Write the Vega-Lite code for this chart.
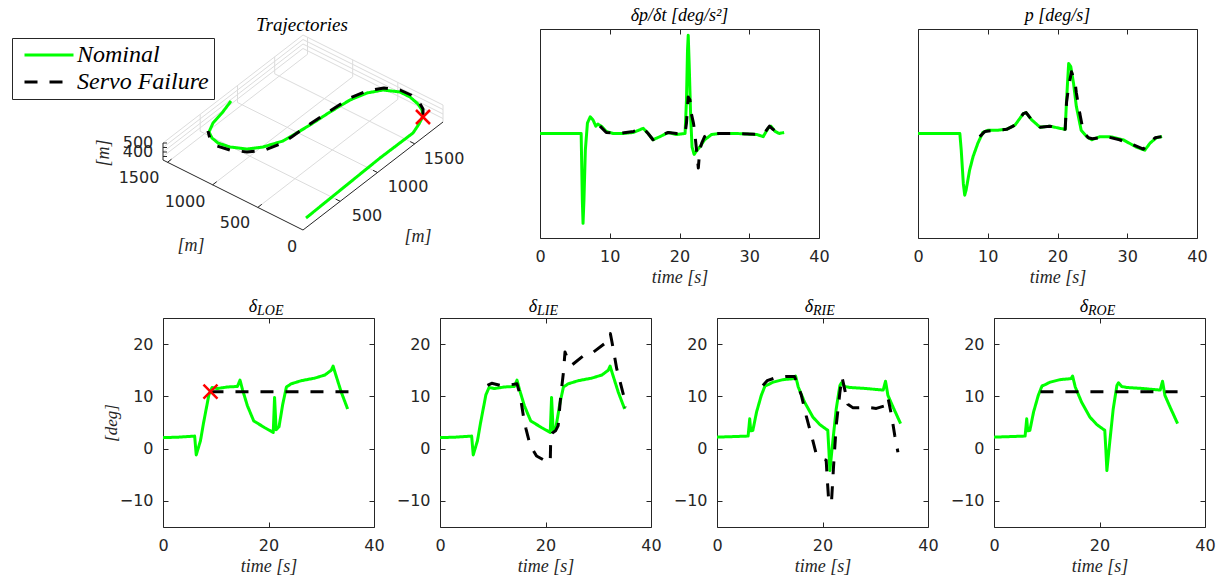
{
"$schema": "https://vega.github.io/schema/vega-lite/v6.json",
"background": "white",
"autosize": {"type": "pad"},
"padding": {"left": 11, "top": 6, "right": 0, "bottom": 0},
"datasets": {
"nomL": [{"t":0,"v":2.1},{"t":3,"v":2.2},{"t":6.0,"v":2.4},{"t":6.3,"v":-1.2},{"t":7.1,"v":1.5},{"t":7.7,"v":5.0},{"t":8.7,"v":10.3},{"t":9.3,"v":11.7},{"t":10.3,"v":11.5},{"t":12.2,"v":11.8},{"t":14.1,"v":11.9},{"t":14.6,"v":13.1},{"t":15.1,"v":11.2},{"t":16.0,"v":8.2},{"t":17.2,"v":5.3},{"t":19.3,"v":4.0},{"t":20.9,"v":3.1},{"t":21.15,"v":9.8},{"t":21.45,"v":3.6},{"t":22.0,"v":4.2},{"t":22.7,"v":8.5},{"t":23.4,"v":11.8},{"t":24.3,"v":12.4},{"t":26.2,"v":13.0},{"t":28.8,"v":13.5},{"t":30.7,"v":14.1},{"t":31.9,"v":15.0},{"t":32.25,"v":15.8},{"t":32.7,"v":14.3},{"t":33.8,"v":10.8},{"t":35.0,"v":7.6}],
"failLOE": [{"t":9,"v":10.9},{"t":35.2,"v":10.9}],
"failLIE": [{"t":9.0,"v":12.1},{"t":9.8,"v":12.5},{"t":11.4,"v":12.1},{"t":12.6,"v":12.1},{"t":14.6,"v":12.4},{"t":15.2,"v":10.2},{"t":15.8,"v":6.3},{"t":16.3,"v":3.8},{"t":17.1,"v":0.6},{"t":18.3,"v":-1.4},{"t":19.9,"v":-2.3},{"t":20.9,"v":-2.6},{"t":21.0,"v":2.5},{"t":21.3,"v":3.0},{"t":21.9,"v":3.4},{"t":22.4,"v":4.4},{"t":22.9,"v":10.2},{"t":23.4,"v":14.6},{"t":23.7,"v":18.5},{"t":24.3,"v":16.9},{"t":25.0,"v":16.0},{"t":27.2,"v":17.8},{"t":29.1,"v":18.5},{"t":31.6,"v":20.4},{"t":32.3,"v":22.0},{"t":32.6,"v":20.4},{"t":33.5,"v":15.3},{"t":34.8,"v":10.2},{"t":35.1,"v":7.9}],
"nomR": [{"t":0,"v":2.2},{"t":3,"v":2.3},{"t":5.9,"v":2.4},{"t":6.2,"v":5.7},{"t":6.4,"v":3.4},{"t":6.8,"v":3.5},{"t":7.5,"v":7.0},{"t":8.4,"v":10.2},{"t":9.1,"v":12.0},{"t":9.6,"v":12.2},{"t":10.6,"v":12.7},{"t":12.5,"v":13.2},{"t":14.6,"v":13.4},{"t":14.9,"v":13.9},{"t":15.4,"v":11.8},{"t":16.6,"v":8.9},{"t":18.2,"v":6.0},{"t":19.5,"v":4.6},{"t":21.0,"v":3.5},{"t":21.2,"v":-0.1},{"t":21.4,"v":-4.2},{"t":22.0,"v":1.8},{"t":22.6,"v":7.6},{"t":23.3,"v":12.1},{"t":23.6,"v":12.6},{"t":24.2,"v":11.9},{"t":25.2,"v":11.7},{"t":28.3,"v":11.5},{"t":31.5,"v":11.2},{"t":31.95,"v":12.9},{"t":32.4,"v":10.2},{"t":33.4,"v":7.9},{"t":34.8,"v":4.8}],
"failRIE": [{"t":8.7,"v":12.1},{"t":9.5,"v":13.0},{"t":10.9,"v":13.5},{"t":13.1,"v":13.8},{"t":14.7,"v":13.8},{"t":15.0,"v":13.0},{"t":16.0,"v":10.2},{"t":16.9,"v":6.3},{"t":18.1,"v":1.8},{"t":18.8,"v":-1.0},{"t":20.0,"v":-2.0},{"t":20.7,"v":-2.2},{"t":20.9,"v":-5.8},{"t":21.2,"v":-10.3},{"t":21.7,"v":-10.3},{"t":22.1,"v":-3.3},{"t":22.6,"v":4.4},{"t":23.3,"v":10.8},{"t":23.7,"v":13.7},{"t":24.2,"v":11.4},{"t":24.8,"v":8.5},{"t":25.8,"v":7.8},{"t":28.3,"v":7.9},{"t":30.2,"v":7.7},{"t":31.8,"v":8.2},{"t":32.4,"v":9.8},{"t":33.1,"v":6.3},{"t":33.7,"v":2.5},{"t":34.3,"v":-0.7}],
"failROE": [{"t":8.8,"v":10.9},{"t":34.8,"v":10.9}],
"dpdtN": [{"t":0,"v":0},{"t":5.9,"v":0},{"t":6.07,"v":-0.64},{"t":6.17,"v":-0.86},{"t":6.3,"v":-0.64},{"t":6.5,"v":-0.16},{"t":6.8,"v":0.10},{"t":7.2,"v":0.16},{"t":7.6,"v":0.13},{"t":8.0,"v":0.07},{"t":8.3,"v":0.09},{"t":8.8,"v":0.07},{"t":9.5,"v":0.02},{"t":10.5,"v":0.0},{"t":11.9,"v":0.0},{"t":13.4,"v":0.01},{"t":14.8,"v":0.05},{"t":15.5,"v":0.0},{"t":16.2,"v":-0.06},{"t":17.2,"v":-0.03},{"t":18.4,"v":0.01},{"t":19.6,"v":-0.01},{"t":20.8,"v":0.0},{"t":21.0,"v":0.32},{"t":21.15,"v":0.80},{"t":21.25,"v":0.94},{"t":21.4,"v":0.64},{"t":21.6,"v":0.16},{"t":21.8,"v":-0.13},{"t":22.1,"v":-0.2},{"t":22.4,"v":-0.17},{"t":22.9,"v":-0.13},{"t":23.6,"v":-0.06},{"t":24.6,"v":-0.01},{"t":25.8,"v":0},{"t":28.2,"v":0},{"t":31.1,"v":-0.01},{"t":32.0,"v":-0.03},{"t":32.7,"v":0.05},{"t":33.1,"v":0.07},{"t":33.7,"v":0.02},{"t":34.3,"v":0},{"t":35.0,"v":0.01}],
"dpdtF": [{"t":8.6,"v":0.07},{"t":9.5,"v":0.01},{"t":11.4,"v":0.0},{"t":13.4,"v":0.02},{"t":14.8,"v":0.05},{"t":15.5,"v":0.0},{"t":16.2,"v":-0.06},{"t":17.2,"v":-0.02},{"t":18.4,"v":0.01},{"t":19.6,"v":0.0},{"t":20.8,"v":0.0},{"t":21.0,"v":0.1},{"t":21.25,"v":0.35},{"t":21.5,"v":0.32},{"t":21.7,"v":0.19},{"t":22.0,"v":0.1},{"t":22.2,"v":0.0},{"t":22.4,"v":-0.13},{"t":22.7,"v":-0.33},{"t":22.9,"v":-0.16},{"t":23.2,"v":-0.09},{"t":23.6,"v":-0.03},{"t":24.4,"v":0},{"t":25.8,"v":0},{"t":28.2,"v":0},{"t":32.0,"v":-0.01},{"t":32.9,"v":0.07},{"t":33.4,"v":0.04},{"t":34.2,"v":0.0},{"t":34.9,"v":0.0}],
"pN": [{"t":0,"v":0},{"t":6.0,"v":0},{"t":6.2,"v":-0.16},{"t":6.5,"v":-0.48},{"t":6.7,"v":-0.59},{"t":6.9,"v":-0.54},{"t":7.4,"v":-0.35},{"t":7.9,"v":-0.22},{"t":8.6,"v":-0.09},{"t":9.3,"v":0.01},{"t":10.0,"v":0.03},{"t":11.2,"v":0.03},{"t":12.7,"v":0.04},{"t":13.9,"v":0.08},{"t":15.1,"v":0.19},{"t":15.5,"v":0.20},{"t":16.3,"v":0.13},{"t":17.5,"v":0.06},{"t":18.9,"v":0.07},{"t":20.3,"v":0.05},{"t":21.1,"v":0.04},{"t":21.3,"v":0.32},{"t":21.6,"v":0.67},{"t":21.9,"v":0.64},{"t":22.3,"v":0.48},{"t":22.7,"v":0.26},{"t":23.4,"v":0.03},{"t":24.2,"v":-0.03},{"t":24.9,"v":-0.06},{"t":26.1,"v":-0.03},{"t":27.5,"v":-0.03},{"t":29.4,"v":-0.06},{"t":31.3,"v":-0.13},{"t":32.5,"v":-0.16},{"t":33.3,"v":-0.09},{"t":34.2,"v":-0.04},{"t":35.0,"v":-0.03}],
"pF": [{"t":8.85,"v":-0.03},{"t":9.6,"v":0.02},{"t":11.0,"v":0.03},{"t":12.7,"v":0.04},{"t":13.9,"v":0.08},{"t":15.1,"v":0.19},{"t":15.5,"v":0.20},{"t":16.3,"v":0.13},{"t":17.5,"v":0.06},{"t":18.9,"v":0.07},{"t":20.3,"v":0.05},{"t":21.1,"v":0.04},{"t":21.3,"v":0.3},{"t":21.6,"v":0.45},{"t":22.0,"v":0.59},{"t":22.5,"v":0.50},{"t":22.7,"v":0.39},{"t":23.2,"v":0.19},{"t":23.7,"v":0.02},{"t":24.4,"v":-0.04},{"t":25.0,"v":-0.05},{"t":27.0,"v":-0.03},{"t":28.9,"v":-0.06},{"t":30.9,"v":-0.11},{"t":32.3,"v":-0.15},{"t":33.3,"v":-0.09},{"t":34.0,"v":-0.04},{"t":34.9,"v":-0.03}],
"trajN": [{"i":1,"u":3,"v":12},{"i":2,"u":40,"v":42},{"i":3,"u":77,"v":72},{"i":4,"u":110,"v":97},{"i":5,"u":116,"v":106},{"i":6,"u":120,"v":114},{"i":7,"u":119,"v":120},{"i":8,"u":115,"v":126},{"i":9,"u":107,"v":133},{"i":10,"u":97,"v":138},{"i":11,"u":80,"v":140},{"i":12,"u":64,"v":137},{"i":13,"u":47,"v":130},{"i":14,"u":27,"v":118},{"i":15,"u":7,"v":105},{"i":16,"u":-3,"v":99},{"i":17,"u":-20,"v":89},{"i":18,"u":-40,"v":83},{"i":19,"u":-56,"v":81},{"i":20,"u":-73,"v":83},{"i":21,"u":-85,"v":87},{"i":22,"u":-91,"v":92},{"i":23,"u":-94,"v":98},{"i":24,"u":-90,"v":107},{"i":25,"u":-81,"v":117},{"i":26,"u":-72,"v":129}],
"trajF": [{"i":1,"u":120,"v":114},{"i":2,"u":120,"v":121},{"i":3,"u":116,"v":128},{"i":4,"u":108,"v":135},{"i":5,"u":97,"v":140},{"i":6,"u":81,"v":142},{"i":7,"u":64,"v":139},{"i":8,"u":47,"v":132},{"i":9,"u":27,"v":119},{"i":10,"u":7,"v":106},{"i":11,"u":-10,"v":94},{"i":12,"u":-20,"v":87},{"i":13,"u":-38,"v":80},{"i":14,"u":-56,"v":78},{"i":15,"u":-73,"v":80},{"i":16,"u":-86,"v":84},{"i":17,"u":-93,"v":91},{"i":18,"u":-95,"v":99}],
"grid3d": [{"u":37.2,"v":28.7,"u2":-102.8,"v2":98.7},{"u":74.5,"v":57.5,"u2":-65.5,"v2":127.5},{"u":111.7,"v":86.2,"u2":-28.3,"v2":156.2},{"u":-45.2,"v":22.6,"u2":94.8,"v2":130.6},{"u":-90.3,"v":45.2,"u2":49.7,"v2":153.2},{"u":-135.5,"v":67.7,"u2":4.5,"v2":175.7},{"u":-140,"v":73.5,"u2":0,"v2":181.5},{"u":-140,"v":78,"u2":0,"v2":186},{"u":-140,"v":82.5,"u2":0,"v2":190.5},{"u":-140,"v":87,"u2":0,"v2":195},{"u":0,"v":181.5,"u2":140,"v2":111.5},{"u":0,"v":186,"u2":140,"v2":116},{"u":0,"v":190.5,"u2":140,"v2":120.5},{"u":0,"v":195,"u2":140,"v2":125},{"u":-102.8,"v":98.7,"u2":-102.8,"v2":115.7},{"u":-65.5,"v":127.5,"u2":-65.5,"v2":144.5},{"u":-28.3,"v":156.2,"u2":-28.3,"v2":173.2},{"u":94.8,"v":130.6,"u2":94.8,"v2":147.6},{"u":49.7,"v":153.2,"u2":49.7,"v2":170.2},{"u":4.5,"v":175.7,"u2":4.5,"v2":192.7},{"u":140,"v":108,"u2":140,"v2":125}],
"axes3d": [{"u":0,"v":0,"u2":-140,"v2":70},{"u":0,"v":0,"u2":140,"v2":108},{"u":-140,"v":70,"u2":-140,"v2":87},{"u":-45.2,"v":22.6,"u2":-41.2,"v2":25.7},{"u":-90.3,"v":45.2,"u2":-86.3,"v2":48.3},{"u":-135.5,"v":67.7,"u2":-131.5,"v2":70.8},{"u":37.2,"v":28.7,"u2":32.7,"v2":30.9},{"u":74.5,"v":57.5,"u2":70,"v2":59.7},{"u":111.7,"v":86.2,"u2":107.2,"v2":88.4},{"u":-140,"v":73.5,"u2":-136,"v2":73.5},{"u":-140,"v":78,"u2":-136,"v2":78},{"u":-140,"v":82.5,"u2":-136,"v2":82.5},{"u":-140,"v":87,"u2":-136,"v2":87}],
"lab3d": [{"u":-11,"v":-17,"label":"0"},{"u":-68,"v":7,"label":"500"},{"u":-118,"v":28,"label":"1000"},{"u":-164,"v":52,"label":"1500"},{"u":64,"v":14,"label":"500"},{"u":105,"v":43,"label":"1000"},{"u":141,"v":71,"label":"1500"},{"u":-165,"v":87,"label":"500"},{"u":-165,"v":78,"label":"400"}],
"mlab3d": [{"u":-112,"v":-16,"label":"[m]"},{"u":115,"v":-7,"label":"[m]"}],
"mlabz": [{"u":-199,"v":77,"label":"[m]"}]
},
"vconcat": [
{
"hconcat": [
{
"width": 278, "height": 209,
"title": {"text": "Trajectories", "offset": -6, "fontSize": 19},
"view": {"stroke": null},
"layer": [
{"data": {"name": "grid3d"}, "mark": {"type": "rule", "color": "#dcdcdc", "strokeWidth": 1},
 "encoding": {"x": {"field": "u", "type": "quantitative", "scale": {"domain": [-140, 138], "nice": false, "zero": false}, "axis": null},
  "y": {"field": "v", "type": "quantitative", "scale": {"domain": [-8, 201], "nice": false, "zero": false}, "axis": null},
  "x2": {"field": "u2"}, "y2": {"field": "v2"}}},
{"data": {"name": "axes3d"}, "mark": {"type": "rule", "color": "#262626", "strokeWidth": 1},
 "encoding": {"x": {"field": "u", "type": "quantitative", "axis": null}, "y": {"field": "v", "type": "quantitative", "axis": null}, "x2": {"field": "u2"}, "y2": {"field": "v2"}}},
{"data": {"name": "trajN"}, "mark": {"type": "line", "strokeWidth": 3, "strokeJoin": "round", "strokeCap": "butt"},
 "encoding": {"x": {"field": "u", "type": "quantitative", "axis": null}, "y": {"field": "v", "type": "quantitative", "axis": null}, "order": {"field": "i", "type": "quantitative"},
  "color": {"datum": "Nominal", "scale": {"domain": ["Nominal", "Servo Failure"], "range": ["#00ff00", "#000000"]}, "legend": {"title": null, "symbolType": "M-2.45,0L2.45,0", "symbolSize": 400, "symbolStrokeWidth": 3, "symbolOffset": 20, "labelOffset": 16}},
  "strokeDash": {"datum": "Nominal", "scale": {"domain": ["Nominal", "Servo Failure"], "range": [[1, 0], [13, 12]]}, "legend": {"title": null, "symbolType": "M-2.45,0L2.45,0", "symbolSize": 400, "symbolStrokeWidth": 3, "symbolOffset": 20, "labelOffset": 16}}}},
{"data": {"name": "trajF"}, "mark": {"type": "line", "strokeWidth": 3, "strokeJoin": "round", "strokeCap": "butt"},
 "encoding": {"x": {"field": "u", "type": "quantitative", "axis": null}, "y": {"field": "v", "type": "quantitative", "axis": null}, "order": {"field": "i", "type": "quantitative"},
  "color": {"datum": "Servo Failure", "scale": {"domain": ["Nominal", "Servo Failure"], "range": ["#00ff00", "#000000"]}, "legend": {"title": null, "symbolType": "M-2.45,0L2.45,0", "symbolSize": 400, "symbolStrokeWidth": 3, "symbolOffset": 20, "labelOffset": 16}},
  "strokeDash": {"datum": "Servo Failure", "scale": {"domain": ["Nominal", "Servo Failure"], "range": [[1, 0], [13, 12]]}, "legend": {"title": null, "symbolType": "M-2.45,0L2.45,0", "symbolSize": 400, "symbolStrokeWidth": 3, "symbolOffset": 20, "labelOffset": 16}}}},
{"data": {"values": [{"u": 120, "v": 113}]}, "mark": {"type": "point", "shape": "M-1,-1L1,1M1,-1L-1,1", "color": "#ff0000", "stroke": "#ff0000", "strokeWidth": 2.5, "size": 196, "filled": false, "opacity": 1},
 "encoding": {"x": {"field": "u", "type": "quantitative", "axis": null}, "y": {"field": "v", "type": "quantitative", "axis": null}}},
{"data": {"name": "lab3d"}, "mark": {"type": "text", "font": "DejaVu Sans", "fontSize": 16, "color": "#262626", "align": "center", "baseline": "middle"},
 "encoding": {"x": {"field": "u", "type": "quantitative", "axis": null}, "y": {"field": "v", "type": "quantitative", "axis": null}, "text": {"field": "label"}}},
{"data": {"name": "mlab3d"}, "mark": {"type": "text", "font": "Liberation Serif", "fontStyle": "italic", "fontSize": 18, "color": "#262626", "align": "center", "baseline": "middle"},
 "encoding": {"x": {"field": "u", "type": "quantitative", "axis": null}, "y": {"field": "v", "type": "quantitative", "axis": null}, "text": {"field": "label"}}},
{"data": {"name": "mlabz"}, "mark": {"type": "text", "font": "Liberation Serif", "fontStyle": "italic", "fontSize": 18, "color": "#262626", "align": "center", "baseline": "middle", "angle": 270},
 "encoding": {"x": {"field": "u", "type": "quantitative", "axis": null}, "y": {"field": "v", "type": "quantitative", "axis": null}, "text": {"field": "label"}}}
]
},
{
"width": 279, "height": 209,
"title": "δp/δt [deg/s²]",
"layer": [
{"data": {"name": "dpdtN"}, "mark": {"type": "line", "strokeWidth": 3, "strokeJoin": "round", "strokeCap": "butt"},
 "encoding": {"x": {"field": "t", "type": "quantitative", "scale": {"domain": [0, 40], "nice": false, "zero": false}, "axis": {"values": [0, 10, 20, 30, 40], "title": "time [s]"}},
  "y": {"field": "v", "type": "quantitative", "scale": {"domain": [-1, 1], "nice": false, "zero": false}, "axis": null},
  "color": {"datum": "Nominal", "scale": {"domain": ["Nominal", "Servo Failure"], "range": ["#00ff00", "#000000"]}, "legend": {"title": null, "symbolType": "M-2.45,0L2.45,0", "symbolSize": 400, "symbolStrokeWidth": 3, "symbolOffset": 20, "labelOffset": 16}},
  "strokeDash": {"datum": "Nominal", "scale": {"domain": ["Nominal", "Servo Failure"], "range": [[1, 0], [13, 12]]}, "legend": {"title": null, "symbolType": "M-2.45,0L2.45,0", "symbolSize": 400, "symbolStrokeWidth": 3, "symbolOffset": 20, "labelOffset": 16}}}},
{"data": {"name": "dpdtF"}, "mark": {"type": "line", "strokeWidth": 3, "strokeJoin": "round", "strokeCap": "butt"},
 "encoding": {"x": {"field": "t", "type": "quantitative", "axis": null}, "y": {"field": "v", "type": "quantitative", "axis": null},
  "color": {"datum": "Servo Failure", "scale": {"domain": ["Nominal", "Servo Failure"], "range": ["#00ff00", "#000000"]}, "legend": {"title": null, "symbolType": "M-2.45,0L2.45,0", "symbolSize": 400, "symbolStrokeWidth": 3, "symbolOffset": 20, "labelOffset": 16}},
  "strokeDash": {"datum": "Servo Failure", "scale": {"domain": ["Nominal", "Servo Failure"], "range": [[1, 0], [13, 12]]}, "legend": {"title": null, "symbolType": "M-2.45,0L2.45,0", "symbolSize": 400, "symbolStrokeWidth": 3, "symbolOffset": 20, "labelOffset": 16}}}},
{"data": {"name": "dpdtN"}, "mark": {"type": "point", "opacity": 0},
 "encoding": {"x": {"field": "t", "type": "quantitative", "axis": {"orient": "top", "values": [0, 10, 20, 30, 40], "labels": false, "title": null}}, "y": {"field": "v", "type": "quantitative", "axis": null}}}
],
"resolve": {"axis": {"x": "independent", "y": "independent"}}
},
{
"width": 279, "height": 209,
"title": "p [deg/s]",
"layer": [
{"data": {"name": "pN"}, "mark": {"type": "line", "strokeWidth": 3, "strokeJoin": "round", "strokeCap": "butt"},
 "encoding": {"x": {"field": "t", "type": "quantitative", "scale": {"domain": [0, 40], "nice": false, "zero": false}, "axis": {"values": [0, 10, 20, 30, 40], "title": "time [s]"}},
  "y": {"field": "v", "type": "quantitative", "scale": {"domain": [-1, 1], "nice": false, "zero": false}, "axis": null},
  "color": {"datum": "Nominal", "scale": {"domain": ["Nominal", "Servo Failure"], "range": ["#00ff00", "#000000"]}, "legend": {"title": null, "symbolType": "M-2.45,0L2.45,0", "symbolSize": 400, "symbolStrokeWidth": 3, "symbolOffset": 20, "labelOffset": 16}},
  "strokeDash": {"datum": "Nominal", "scale": {"domain": ["Nominal", "Servo Failure"], "range": [[1, 0], [13, 12]]}, "legend": {"title": null, "symbolType": "M-2.45,0L2.45,0", "symbolSize": 400, "symbolStrokeWidth": 3, "symbolOffset": 20, "labelOffset": 16}}}},
{"data": {"name": "pF"}, "mark": {"type": "line", "strokeWidth": 3, "strokeJoin": "round", "strokeCap": "butt"},
 "encoding": {"x": {"field": "t", "type": "quantitative", "axis": null}, "y": {"field": "v", "type": "quantitative", "axis": null},
  "color": {"datum": "Servo Failure", "scale": {"domain": ["Nominal", "Servo Failure"], "range": ["#00ff00", "#000000"]}, "legend": {"title": null, "symbolType": "M-2.45,0L2.45,0", "symbolSize": 400, "symbolStrokeWidth": 3, "symbolOffset": 20, "labelOffset": 16}},
  "strokeDash": {"datum": "Servo Failure", "scale": {"domain": ["Nominal", "Servo Failure"], "range": [[1, 0], [13, 12]]}, "legend": {"title": null, "symbolType": "M-2.45,0L2.45,0", "symbolSize": 400, "symbolStrokeWidth": 3, "symbolOffset": 20, "labelOffset": 16}}}},
{"data": {"name": "pN"}, "mark": {"type": "point", "opacity": 0},
 "encoding": {"x": {"field": "t", "type": "quantitative", "axis": {"orient": "top", "values": [0, 10, 20, 30, 40], "labels": false, "title": null}}, "y": {"field": "v", "type": "quantitative", "axis": null}}}
],
"resolve": {"axis": {"x": "independent", "y": "independent"}}
}
],
"spacing": 99,
"bounds": "flush",
"resolve": {"scale": {"color": "shared", "strokeDash": "shared"}, "legend": {"color": "shared", "strokeDash": "shared"}}
},
{
"hconcat": [
{
"width": 211, "height": 209,
"layer": [
{"data": {"name": "nomL"}, "mark": {"type": "line", "strokeWidth": 3, "strokeJoin": "round", "strokeCap": "butt"},
 "encoding": {"x": {"field": "t", "type": "quantitative", "scale": {"domain": [0, 40], "nice": false, "zero": false}, "axis": {"values": [0, 20, 40], "title": "time [s]"}},
  "y": {"field": "v", "type": "quantitative", "scale": {"domain": [-15, 25], "nice": false, "zero": false}, "axis": {"values": [-10, 0, 10, 20], "title": "[deg]"}},
  "color": {"datum": "Nominal", "scale": {"domain": ["Nominal", "Servo Failure"], "range": ["#00ff00", "#000000"]}, "legend": {"title": null, "symbolType": "M-2.45,0L2.45,0", "symbolSize": 400, "symbolStrokeWidth": 3, "symbolOffset": 20, "labelOffset": 16}},
  "strokeDash": {"datum": "Nominal", "scale": {"domain": ["Nominal", "Servo Failure"], "range": [[1, 0], [13, 12]]}, "legend": {"title": null, "symbolType": "M-2.45,0L2.45,0", "symbolSize": 400, "symbolStrokeWidth": 3, "symbolOffset": 20, "labelOffset": 16}}}},
{"data": {"name": "failLOE"}, "mark": {"type": "line", "strokeWidth": 3, "strokeJoin": "round", "strokeCap": "butt"},
 "encoding": {"x": {"field": "t", "type": "quantitative", "axis": null}, "y": {"field": "v", "type": "quantitative", "axis": null},
  "color": {"datum": "Servo Failure", "scale": {"domain": ["Nominal", "Servo Failure"], "range": ["#00ff00", "#000000"]}, "legend": {"title": null, "symbolType": "M-2.45,0L2.45,0", "symbolSize": 400, "symbolStrokeWidth": 3, "symbolOffset": 20, "labelOffset": 16}},
  "strokeDash": {"datum": "Servo Failure", "scale": {"domain": ["Nominal", "Servo Failure"], "range": [[1, 0], [13, 12]]}, "legend": {"title": null, "symbolType": "M-2.45,0L2.45,0", "symbolSize": 400, "symbolStrokeWidth": 3, "symbolOffset": 20, "labelOffset": 16}}}},
{"data": {"values": [{"t": 9, "v": 10.9}]}, "mark": {"type": "point", "shape": "M-1,-1L1,1M1,-1L-1,1", "color": "#ff0000", "stroke": "#ff0000", "strokeWidth": 2.5, "size": 196, "filled": false, "opacity": 1},
 "encoding": {"x": {"field": "t", "type": "quantitative", "axis": null}, "y": {"field": "v", "type": "quantitative", "axis": null}}},
{"data": {"values": [{}]}, "mark": {"type": "text", "text": "δ", "font": "Liberation Serif", "fontStyle": "italic", "fontSize": 18, "color": "#000000", "align": "right", "baseline": "alphabetic", "dx": -11.5, "dy": -6},
 "encoding": {"x": {"datum": 20, "type": "quantitative", "axis": null}, "y": {"datum": 25, "type": "quantitative", "axis": null}}},
{"data": {"values": [{}]}, "mark": {"type": "text", "text": "LOE", "font": "Liberation Serif", "fontStyle": "italic", "fontSize": 14, "color": "#000000", "align": "left", "baseline": "alphabetic", "dx": -11.5, "dy": -3},
 "encoding": {"x": {"datum": 20, "type": "quantitative", "axis": null}, "y": {"datum": 25, "type": "quantitative", "axis": null}}},
{"data": {"name": "nomL"}, "mark": {"type": "point", "opacity": 0},
 "encoding": {"x": {"field": "t", "type": "quantitative", "axis": {"orient": "top", "values": [0, 20, 40], "labels": false, "title": null}}, "y": {"field": "v", "type": "quantitative", "axis": {"orient": "right", "values": [-10, 0, 10, 20], "labels": false, "title": null}}}}
],
"resolve": {"axis": {"x": "independent", "y": "independent"}}
},
{
"width": 211, "height": 209,
"layer": [
{"data": {"name": "nomL"}, "mark": {"type": "line", "strokeWidth": 3, "strokeJoin": "round", "strokeCap": "butt"},
 "encoding": {"x": {"field": "t", "type": "quantitative", "scale": {"domain": [0, 40], "nice": false, "zero": false}, "axis": {"values": [0, 20, 40], "title": "time [s]"}},
  "y": {"field": "v", "type": "quantitative", "scale": {"domain": [-15, 25], "nice": false, "zero": false}, "axis": {"values": [-10, 0, 10, 20], "title": null}},
  "color": {"datum": "Nominal", "scale": {"domain": ["Nominal", "Servo Failure"], "range": ["#00ff00", "#000000"]}, "legend": {"title": null, "symbolType": "M-2.45,0L2.45,0", "symbolSize": 400, "symbolStrokeWidth": 3, "symbolOffset": 20, "labelOffset": 16}},
  "strokeDash": {"datum": "Nominal", "scale": {"domain": ["Nominal", "Servo Failure"], "range": [[1, 0], [13, 12]]}, "legend": {"title": null, "symbolType": "M-2.45,0L2.45,0", "symbolSize": 400, "symbolStrokeWidth": 3, "symbolOffset": 20, "labelOffset": 16}}}},
{"data": {"name": "failLIE"}, "mark": {"type": "line", "strokeWidth": 3, "strokeJoin": "round", "strokeCap": "butt"},
 "encoding": {"x": {"field": "t", "type": "quantitative", "axis": null}, "y": {"field": "v", "type": "quantitative", "axis": null},
  "color": {"datum": "Servo Failure", "scale": {"domain": ["Nominal", "Servo Failure"], "range": ["#00ff00", "#000000"]}, "legend": {"title": null, "symbolType": "M-2.45,0L2.45,0", "symbolSize": 400, "symbolStrokeWidth": 3, "symbolOffset": 20, "labelOffset": 16}},
  "strokeDash": {"datum": "Servo Failure", "scale": {"domain": ["Nominal", "Servo Failure"], "range": [[1, 0], [13, 12]]}, "legend": {"title": null, "symbolType": "M-2.45,0L2.45,0", "symbolSize": 400, "symbolStrokeWidth": 3, "symbolOffset": 20, "labelOffset": 16}}}},
{"data": {"values": [{}]}, "mark": {"type": "text", "text": "δ", "font": "Liberation Serif", "fontStyle": "italic", "fontSize": 18, "color": "#000000", "align": "right", "baseline": "alphabetic", "dx": -8.5, "dy": -6},
 "encoding": {"x": {"datum": 20, "type": "quantitative", "axis": null}, "y": {"datum": 25, "type": "quantitative", "axis": null}}},
{"data": {"values": [{}]}, "mark": {"type": "text", "text": "LIE", "font": "Liberation Serif", "fontStyle": "italic", "fontSize": 14, "color": "#000000", "align": "left", "baseline": "alphabetic", "dx": -8.5, "dy": -3},
 "encoding": {"x": {"datum": 20, "type": "quantitative", "axis": null}, "y": {"datum": 25, "type": "quantitative", "axis": null}}},
{"data": {"name": "nomL"}, "mark": {"type": "point", "opacity": 0},
 "encoding": {"x": {"field": "t", "type": "quantitative", "axis": {"orient": "top", "values": [0, 20, 40], "labels": false, "title": null}}, "y": {"field": "v", "type": "quantitative", "axis": {"orient": "right", "values": [-10, 0, 10, 20], "labels": false, "title": null}}}}
],
"resolve": {"axis": {"x": "independent", "y": "independent"}}
},
{
"width": 211, "height": 209,
"layer": [
{"data": {"name": "nomR"}, "mark": {"type": "line", "strokeWidth": 3, "strokeJoin": "round", "strokeCap": "butt"},
 "encoding": {"x": {"field": "t", "type": "quantitative", "scale": {"domain": [0, 40], "nice": false, "zero": false}, "axis": {"values": [0, 20, 40], "title": "time [s]"}},
  "y": {"field": "v", "type": "quantitative", "scale": {"domain": [-15, 25], "nice": false, "zero": false}, "axis": {"values": [-10, 0, 10, 20], "title": null}},
  "color": {"datum": "Nominal", "scale": {"domain": ["Nominal", "Servo Failure"], "range": ["#00ff00", "#000000"]}, "legend": {"title": null, "symbolType": "M-2.45,0L2.45,0", "symbolSize": 400, "symbolStrokeWidth": 3, "symbolOffset": 20, "labelOffset": 16}},
  "strokeDash": {"datum": "Nominal", "scale": {"domain": ["Nominal", "Servo Failure"], "range": [[1, 0], [13, 12]]}, "legend": {"title": null, "symbolType": "M-2.45,0L2.45,0", "symbolSize": 400, "symbolStrokeWidth": 3, "symbolOffset": 20, "labelOffset": 16}}}},
{"data": {"name": "failRIE"}, "mark": {"type": "line", "strokeWidth": 3, "strokeJoin": "round", "strokeCap": "butt"},
 "encoding": {"x": {"field": "t", "type": "quantitative", "axis": null}, "y": {"field": "v", "type": "quantitative", "axis": null},
  "color": {"datum": "Servo Failure", "scale": {"domain": ["Nominal", "Servo Failure"], "range": ["#00ff00", "#000000"]}, "legend": {"title": null, "symbolType": "M-2.45,0L2.45,0", "symbolSize": 400, "symbolStrokeWidth": 3, "symbolOffset": 20, "labelOffset": 16}},
  "strokeDash": {"datum": "Servo Failure", "scale": {"domain": ["Nominal", "Servo Failure"], "range": [[1, 0], [13, 12]]}, "legend": {"title": null, "symbolType": "M-2.45,0L2.45,0", "symbolSize": 400, "symbolStrokeWidth": 3, "symbolOffset": 20, "labelOffset": 16}}}},
{"data": {"values": [{}]}, "mark": {"type": "text", "text": "δ", "font": "Liberation Serif", "fontStyle": "italic", "fontSize": 18, "color": "#000000", "align": "right", "baseline": "alphabetic", "dx": -9.5, "dy": -6},
 "encoding": {"x": {"datum": 20, "type": "quantitative", "axis": null}, "y": {"datum": 25, "type": "quantitative", "axis": null}}},
{"data": {"values": [{}]}, "mark": {"type": "text", "text": "RIE", "font": "Liberation Serif", "fontStyle": "italic", "fontSize": 14, "color": "#000000", "align": "left", "baseline": "alphabetic", "dx": -9.5, "dy": -3},
 "encoding": {"x": {"datum": 20, "type": "quantitative", "axis": null}, "y": {"datum": 25, "type": "quantitative", "axis": null}}},
{"data": {"name": "nomR"}, "mark": {"type": "point", "opacity": 0},
 "encoding": {"x": {"field": "t", "type": "quantitative", "axis": {"orient": "top", "values": [0, 20, 40], "labels": false, "title": null}}, "y": {"field": "v", "type": "quantitative", "axis": {"orient": "right", "values": [-10, 0, 10, 20], "labels": false, "title": null}}}}
],
"resolve": {"axis": {"x": "independent", "y": "independent"}}
},
{
"width": 211, "height": 209,
"layer": [
{"data": {"name": "nomR"}, "mark": {"type": "line", "strokeWidth": 3, "strokeJoin": "round", "strokeCap": "butt"},
 "encoding": {"x": {"field": "t", "type": "quantitative", "scale": {"domain": [0, 40], "nice": false, "zero": false}, "axis": {"values": [0, 20, 40], "title": "time [s]"}},
  "y": {"field": "v", "type": "quantitative", "scale": {"domain": [-15, 25], "nice": false, "zero": false}, "axis": {"values": [-10, 0, 10, 20], "title": null}},
  "color": {"datum": "Nominal", "scale": {"domain": ["Nominal", "Servo Failure"], "range": ["#00ff00", "#000000"]}, "legend": {"title": null, "symbolType": "M-2.45,0L2.45,0", "symbolSize": 400, "symbolStrokeWidth": 3, "symbolOffset": 20, "labelOffset": 16}},
  "strokeDash": {"datum": "Nominal", "scale": {"domain": ["Nominal", "Servo Failure"], "range": [[1, 0], [13, 12]]}, "legend": {"title": null, "symbolType": "M-2.45,0L2.45,0", "symbolSize": 400, "symbolStrokeWidth": 3, "symbolOffset": 20, "labelOffset": 16}}}},
{"data": {"name": "failROE"}, "mark": {"type": "line", "strokeWidth": 3, "strokeJoin": "round", "strokeCap": "butt"},
 "encoding": {"x": {"field": "t", "type": "quantitative", "axis": null}, "y": {"field": "v", "type": "quantitative", "axis": null},
  "color": {"datum": "Servo Failure", "scale": {"domain": ["Nominal", "Servo Failure"], "range": ["#00ff00", "#000000"]}, "legend": {"title": null, "symbolType": "M-2.45,0L2.45,0", "symbolSize": 400, "symbolStrokeWidth": 3, "symbolOffset": 20, "labelOffset": 16}},
  "strokeDash": {"datum": "Servo Failure", "scale": {"domain": ["Nominal", "Servo Failure"], "range": [[1, 0], [13, 12]]}, "legend": {"title": null, "symbolType": "M-2.45,0L2.45,0", "symbolSize": 400, "symbolStrokeWidth": 3, "symbolOffset": 20, "labelOffset": 16}}}},
{"data": {"values": [{}]}, "mark": {"type": "text", "text": "δ", "font": "Liberation Serif", "fontStyle": "italic", "fontSize": 18, "color": "#000000", "align": "right", "baseline": "alphabetic", "dx": -11.5, "dy": -6},
 "encoding": {"x": {"datum": 20, "type": "quantitative", "axis": null}, "y": {"datum": 25, "type": "quantitative", "axis": null}}},
{"data": {"values": [{}]}, "mark": {"type": "text", "text": "ROE", "font": "Liberation Serif", "fontStyle": "italic", "fontSize": 14, "color": "#000000", "align": "left", "baseline": "alphabetic", "dx": -11.5, "dy": -3},
 "encoding": {"x": {"datum": 20, "type": "quantitative", "axis": null}, "y": {"datum": 25, "type": "quantitative", "axis": null}}},
{"data": {"name": "nomR"}, "mark": {"type": "point", "opacity": 0},
 "encoding": {"x": {"field": "t", "type": "quantitative", "axis": {"orient": "top", "values": [0, 20, 40], "labels": false, "title": null}}, "y": {"field": "v", "type": "quantitative", "axis": {"orient": "right", "values": [-10, 0, 10, 20], "labels": false, "title": null}}}}
],
"resolve": {"axis": {"x": "independent", "y": "independent"}}
}
],
"spacing": 66,
"bounds": "flush",
"resolve": {"scale": {"color": "shared", "strokeDash": "shared"}, "legend": {"color": "shared", "strokeDash": "shared"}}
}
],
"spacing": 10,
"resolve": {"scale": {"color": "shared", "strokeDash": "shared"}, "legend": {"color": "shared", "strokeDash": "shared"}},
"config": {
"view": {"stroke": "#262626", "strokeWidth": 1},
"axis": {"grid": false, "domain": false, "ticks": true, "tickSize": -5, "tickColor": "#262626", "tickWidth": 1, "labelFont": "DejaVu Sans", "labelFontSize": 16, "labelColor": "#262626", "labelPadding": 15, "labelFlush": false, "labelOverlap": false, "titleFont": "Liberation Serif", "titleFontStyle": "italic", "titleFontWeight": "normal", "titleFontSize": 18, "titleColor": "#262626", "titlePadding": 4},
"axisY": {"titleFontSize": 17, "titlePadding": -1},
"title": {"font": "Liberation Serif", "fontStyle": "italic", "fontWeight": "normal", "fontSize": 18, "color": "#000000", "offset": 4},
"legend": {"orient": "none", "legendX": -151, "legendY": 9, "direction": "vertical", "labelFont": "Liberation Serif", "labelFontStyle": "italic", "labelFontSize": 24, "labelColor": "#000000", "labelLimit": 300, "padding": 5, "rowPadding": 3, "strokeColor": "#262626", "fillColor": "#ffffff"}
}
}
